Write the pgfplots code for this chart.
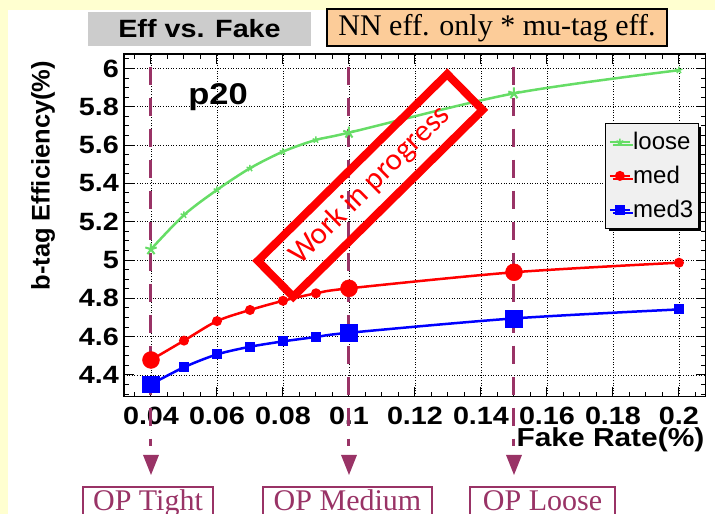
\documentclass[border=0pt]{standalone}
\usepackage{fontspec}
\setmainfont{Liberation Serif}
\setsansfont{Liberation Sans}
\newfontfamily\stampfont{Carlito}
\usepackage{graphicx}
\usepackage{pgfplots}
\pgfplotsset{compat=1.18}
\usetikzlibrary{shadows}

\definecolor{bgyellow}{RGB}{255,255,208}
\definecolor{titlegray}{RGB}{204,204,204}
\definecolor{peach}{RGB}{252,204,153}
\definecolor{loosegreen}{RGB}{102,221,102}
\definecolor{medred}{RGB}{255,0,0}
\definecolor{medblue}{RGB}{0,0,255}
\definecolor{opc}{RGB}{153,51,102}
\definecolor{legfill}{RGB}{240,240,240}

% ROOT-style wide Helvetica look
\newcommand\hs[1]{\scalebox{1.15}[1]{#1}}
\newcommand\rootfont{\fontsize{25}{25}\selectfont\sffamily\bfseries}

% efficiency vs fake rate, one table per working point
\pgfplotstableread{
x     y
0.04  5.056
0.05  5.235
0.06  5.366
0.07  5.479
0.08  5.566
0.09  5.627
0.10  5.665
0.15  5.870
0.20  5.991
}\loosetab
\pgfplotstableread{
x     y
0.04  4.478
0.05  4.579
0.06  4.681
0.07  4.739
0.08  4.787
0.09  4.826
0.10  4.852
0.15  4.936
0.20  4.986
}\medtab
\pgfplotstableread{
x     y
0.04  4.351
0.05  4.440
0.06  4.507
0.07  4.547
0.08  4.575
0.09  4.598
0.10  4.620
0.15  4.695
0.20  4.742
}\medthreetab

\begin{document}
\begin{tikzpicture}[x=1pt,y=1pt]
\clip (0,0) rectangle (715,514);
\fill[bgyellow] (0,0) rectangle (715,514);
\fill[white] (8,0) rectangle (715,504);

% header boxes
\fill[titlegray] (88,468) rectangle (311,502);
\node[font=\rootfont] at (199.5,485) {\hs{Eff vs. Fake}};
\filldraw[fill=peach, draw=black, line width=1.5pt] (327,468) rectangle (667,505);
\node[font=\fontsize{30}{30}\selectfont\rmfamily] at (497,485.5) {NN eff. only * mu-tag eff.};

\begin{axis}[
  at={(124pt,117.3pt)}, anchor=south west,
  scale only axis, width=581.7pt, height=342.7pt,
  xmin=0.03182, xmax=0.2081, ymin=4.2862, ymax=6.0757,
  clip=false,
  axis line style={line width=1.5pt, black},
  tick align=inside, tick pos=both,
  major tick length=10pt, minor tick length=5pt,
  every tick/.style={black, line width=1pt},
  xtick={0.04,0.06,0.08,0.10,0.12,0.14,0.16,0.18,0.20},
  xticklabels={\hs{0.04},\hs{0.06},\hs{0.08},\hs{0.1},\hs{0.12},\hs{0.14},\hs{0.16},\hs{0.18},\hs{0.2}},
  minor xtick={0.035,0.045,0.05,0.055,0.065,0.07,0.075,0.085,0.09,0.095,0.105,0.11,0.115,0.125,0.13,0.135,0.145,0.15,0.155,0.165,0.17,0.175,0.185,0.19,0.195,0.205},
  ytick={4.4,4.6,4.8,5.0,5.2,5.4,5.6,5.8,6.0},
  yticklabels={\hs{4.4},\hs{4.6},\hs{4.8},\hs{5},\hs{5.2},\hs{5.4},\hs{5.6},\hs{5.8},\hs{6}},
  minor ytick={4.3,4.35,4.45,4.5,4.55,4.65,4.7,4.75,4.85,4.9,4.95,5.05,5.1,5.15,5.25,5.3,5.35,5.45,5.5,5.55,5.65,5.7,5.75,5.85,5.9,5.95,6.05},
  grid=major,
  major grid style={black, line width=0.8pt, dash pattern=on 1pt off 1.6pt},
  xticklabel style={font=\rootfont, inner sep=0pt, yshift=-10pt},
  yticklabel style={font=\rootfont, inner sep=0pt, xshift=-5pt},
  xlabel={\hs{Fake Rate(\%)}},
  xlabel style={font=\fontsize{26}{26}\selectfont\sffamily\bfseries, at={(axis description cs:0.998,-0.1459)}, anchor=base east, inner sep=0pt},
  ylabel={b-tag Efficiency(\%)},
  ylabel style={font=\fontsize{25.5}{25.5}\selectfont\sffamily\bfseries, at={(axis description cs:-0.139,0.645)}, anchor=center, rotate=0},
  legend image code/.code={\draw[mark repeat=2,mark phase=2,#1] plot coordinates {(0pt,0pt) (10pt,0pt) (20pt,0pt)};},
  legend style={at={(axis description cs:0.827,0.7987)}, anchor=north west,
    draw=black, line width=1.2pt, fill=legfill,
    drop shadow={shadow xshift=3pt, shadow yshift=-3pt, fill=black, opacity=1},
    font=\fontsize{24}{24}\selectfont\sffamily,
    inner xsep=3pt, inner ysep=3pt, row sep=3pt,
    nodes={inner xsep=2pt, inner ysep=6pt}},
  legend cell align=left,
]
\addplot[loosegreen, line width=2.5pt, smooth, mark=star, mark size=3.5pt, mark options={line width=1.5pt}] table {\loosetab};
\addlegendentry{loose}
\addplot[medred, line width=2.5pt, smooth, mark=*, mark size=3.7pt] table {\medtab};
\addlegendentry{med}
\addplot[medblue, line width=2.5pt, smooth, mark=square*, mark size=3.7pt] table {\medthreetab};
\addlegendentry{med3}

% larger markers at the three operating points
\addplot[forget plot, only marks, loosegreen, mark=star, mark size=6pt, mark options={line width=2pt}] table[row sep=\\] {x y\\ 0.04 5.056\\ 0.10 5.665\\ 0.15 5.870\\};
\addplot[forget plot, only marks, medred, mark=*, mark size=8.5pt] table[row sep=\\] {x y\\ 0.04 4.478\\ 0.10 4.852\\ 0.15 4.936\\};
\addplot[forget plot, only marks, medblue, mark=square*, mark size=8.3pt] table[row sep=\\] {x y\\ 0.04 4.351\\ 0.10 4.620\\ 0.15 4.695\\};

% operating-point markers
\foreach \op in {0.04,0.10,0.15}{
  \edef\temp{\noexpand\draw[opc, line width=3pt, dash pattern=on 18pt off 13pt] (axis cs:\op,6.01) -- (axis cs:\op,4.03);
    \noexpand\fill[opc] (axis cs:\op,3.982) -- ++(-8pt,0pt) -- ++(8pt,-20pt) -- ++(8pt,20pt) -- cycle;}
  \temp
}
\end{axis}

% operating point labels
\begin{scope}[opc, line width=1.5pt]
\draw (83,-5) rectangle (213,27);
\draw (263,-5) rectangle (432,27);
\draw (470,-5) rectangle (615,27);
\end{scope}
\node[text=opc, font=\fontsize{30}{30}\selectfont\rmfamily, anchor=base] at (148,3) {OP Tight};
\node[text=opc, font=\fontsize{30}{30}\selectfont\rmfamily, anchor=base] at (347.5,3) {OP Medium};
\node[text=opc, font=\fontsize{30}{30}\selectfont\rmfamily, anchor=base] at (542.5,3) {OP Loose};

\node[font=\fontsize{30}{30}\selectfont\sffamily\bfseries] at (218,417) {\hs{p20}};

% stamp
\draw[medred, line width=8pt, rotate around={44.6:(370.2,328.6)}] (237.2,303.4) rectangle (503.2,353.8);
\node[text=medred, rotate=44.6, font=\stampfont\fontsize{31}{31}\selectfont] at (370.2,328.6) {Work in progress};
\end{tikzpicture}
\end{document}
